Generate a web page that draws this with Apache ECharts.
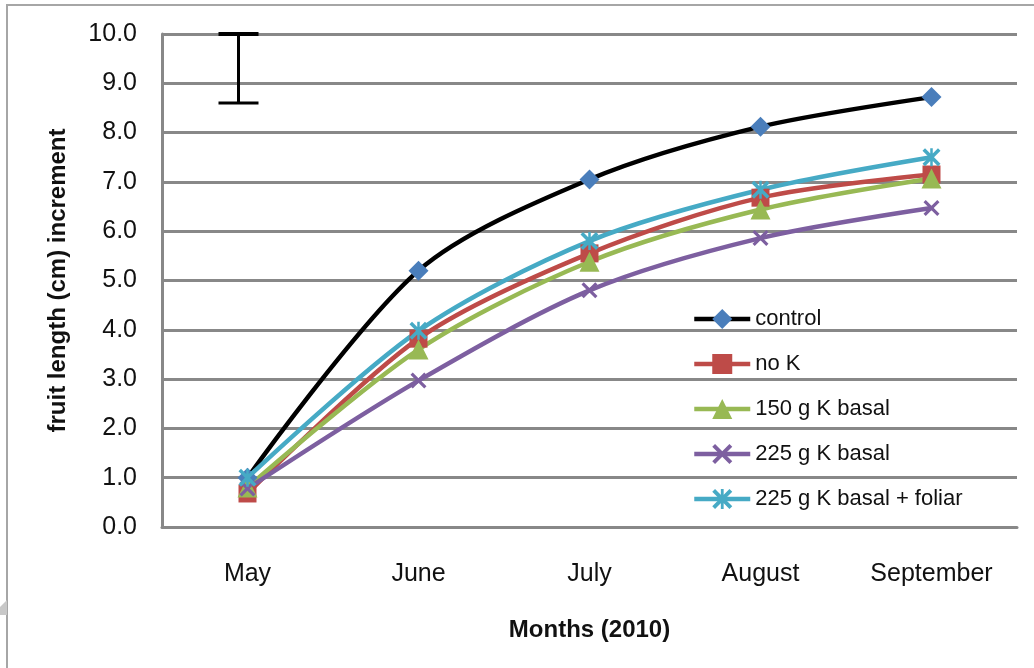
<!DOCTYPE html>
<html>
<head>
<meta charset="utf-8">
<script src="https://cdn.jsdelivr.net/npm/echarts@6/dist/echarts.min.js"></script>
<style>
html,body{margin:0;padding:0;background:#fff;}
#chart{width:1034px;height:668px;}
</style>
</head>
<body>
<div id="chart"></div>
<script>
const categories = ['May', 'June', 'July', 'August', 'September'];
const seriesNames = ['control', 'no K', '150 g K basal', '225 g K basal', '225 g K basal + foliar'];
const control = [1.0, 5.2, 7.05, 8.12, 8.72];
const noK = [0.68, 3.82, 5.55, 6.68, 7.15];
const k150basal = [0.8, 3.6, 5.38, 6.44, 7.07];
const k225basal = [0.78, 2.97, 4.8, 5.86, 6.47];
const k225foliar = [1.0, 3.98, 5.8, 6.84, 7.5];
const errorBar = [0, 8.6, 10.0]; // category index, low, high
const yTicks = [0, 1, 2, 3, 4, 5, 6, 7, 8, 9, 10];

const FONT = '"Liberation Sans", Arial, sans-serif';
const xPath = 'path://M0,1.4 L1.4,0 L5,3.6 L8.6,0 L10,1.4 L6.4,5 L10,8.6 L8.6,10 L5,6.4 L1.4,10 L0,8.6 L3.6,5 Z';
const starPath = 'path://M0,1.4 L1.4,0 L5,3.6 L8.6,0 L10,1.4 L6.4,5 L10,8.6 L8.6,10 L5,6.4 L1.4,10 L0,8.6 L3.6,5 Z M4.3,0 L5.7,0 L5.7,10 L4.3,10 Z';

function lineSeries(name, data, lineColor, markColor, symbol, size) {
  return {
    name: name, type: 'line', data: data, smooth: 0.3,
    symbol: symbol, symbolSize: size,
    lineStyle: { color: lineColor, width: 4.5 },
    itemStyle: { color: markColor, borderWidth: 0 },
    emphasis: { disabled: true },
    z: 3
  };
}

const chart = echarts.init(document.getElementById('chart'), null, { renderer: 'canvas' });
chart.setOption({
  animation: false,
  backgroundColor: '#fff',
  textStyle: { fontFamily: FONT },
  graphic: [
    { type: 'rect', shape: { x: 7, y: 5, width: 1100, height: 1000 }, style: { fill: null, stroke: '#a6a6a6', lineWidth: 2 }, z: -1 },
    { type: 'polygon', shape: { points: [[7, 600], [0, 607], [0, 615], [7, 615]] }, style: { fill: '#c8c8c8' }, z: -1 }
  ],
  grid: { left: 162, right: 17, top: 34, bottom: 141, containLabel: false },
  legend: {
    data: seriesNames,
    orient: 'vertical',
    left: 687, top: 303,
    itemWidth: 56, itemHeight: 25, itemGap: 23,
    lineStyle: { width: 4.5 },
    textStyle: { fontFamily: FONT, fontSize: 22, color: '#111' },
    selectedMode: false
  },
  xAxis: {
    type: 'category', data: categories, boundaryGap: true,
    name: 'Months (2010)', nameLocation: 'middle', nameGap: 91,
    nameTextStyle: { fontFamily: FONT, fontSize: 24, fontWeight: 'bold', color: '#111' },
    axisLine: { show: true, lineStyle: { color: '#888', width: 3 } },
    axisTick: { show: false },
    axisLabel: { margin: 35, fontSize: 25, color: '#111', fontFamily: FONT },
    splitLine: { show: false }
  },
  yAxis: {
    type: 'value', min: yTicks[0], max: yTicks[yTicks.length - 1], interval: 1,
    name: 'fruit length (cm) increment', nameLocation: 'middle', nameGap: 92, nameRotate: 90,
    nameTextStyle: { fontFamily: FONT, fontSize: 24, fontWeight: 'bold', color: '#111' },
    axisLine: { show: true, lineStyle: { color: '#888', width: 3 } },
    axisTick: { show: false },
    axisLabel: { margin: 25, fontSize: 25, color: '#111', fontFamily: FONT, formatter: v => v.toFixed(1) },
    splitLine: { show: true, lineStyle: { color: '#888', width: 3 } }
  },
  series: [
    lineSeries(seriesNames[0], control, '#000000', '#4a7ebb', 'diamond', 20),
    lineSeries(seriesNames[1], noK, '#be4b48', '#be4b48', 'rect', 18),
    lineSeries(seriesNames[2], k150basal, '#98b954', '#98b954', 'triangle', 20),
    lineSeries(seriesNames[3], k225basal, '#7d5fa0', '#7d5fa0', xPath, 16),
    lineSeries(seriesNames[4], k225foliar, '#46aac5', '#46aac5', starPath, 18),
    {
      name: 'error', type: 'custom', data: [errorBar],
      encode: { x: 0, y: [1, 2] },
      z: 4,
      renderItem: function (params, api) {
        const lo = api.coord([api.value(0), api.value(1)]);
        const hi = api.coord([api.value(0), api.value(2)]);
        const x = lo[0] - 9;
        const hw = 20;
        return {
          type: 'group', children: [
            { type: 'line', shape: { x1: x, y1: hi[1], x2: x, y2: lo[1] }, style: { stroke: '#000', lineWidth: 3 } },
            { type: 'line', shape: { x1: x - hw, y1: hi[1], x2: x + hw, y2: hi[1] }, style: { stroke: '#000', lineWidth: 4 } },
            { type: 'line', shape: { x1: x - hw, y1: lo[1], x2: x + hw, y2: lo[1] }, style: { stroke: '#000', lineWidth: 3 } }
          ]
        };
      }
    }
  ]
});
</script>
</body>
</html>
